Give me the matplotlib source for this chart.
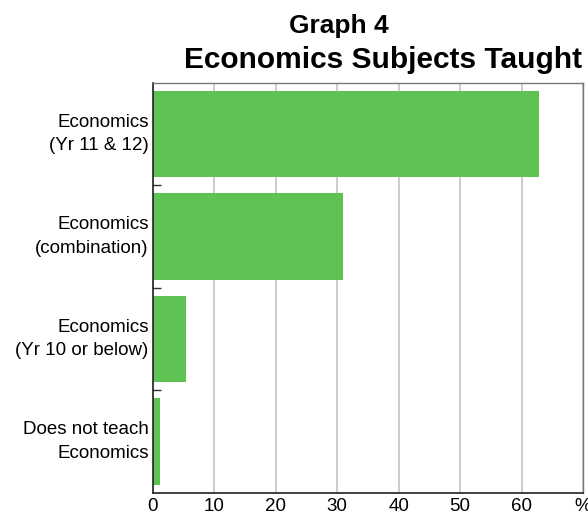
import matplotlib
matplotlib.use("Agg")
import matplotlib.pyplot as plt
import numpy as np

plt.rcParams['font.family'] = ['Liberation Sans', 'DejaVu Sans']

categories = ["Economics\n(Yr 11 & 12)", "Economics\n(combination)",
              "Economics\n(Yr 10 or below)", "Does not teach\nEconomics"]
values = [62.9, 31.0, 5.4, 1.2]
x_ticks = [0, 10, 20, 30, 40, 50, 60, 70]
x_ticklabels = ["0", "10", "20", "30", "40", "50", "60", "%"]

fig = plt.figure(figsize=(5.88, 5.24), dpi=100)
ax = fig.add_axes([0.2597, 0.0597, 0.7318, 0.7825])

ypos = np.arange(len(categories))
ax.barh(ypos, values, height=0.84, color="#5fc354", zorder=2)
ax.set_ylim(len(categories) - 0.5, -0.5)
ax.set_xlim(0, 70)

ax.set_xticks(x_ticks)
ax.set_xticklabels(x_ticklabels, fontsize=13.5)
ax.tick_params(axis='x', length=0, pad=4)
ax.xaxis.grid(True, color="#c4c4c4", linewidth=1.2, zorder=0)

ax.set_yticks(ypos)
ax.set_yticklabels(categories, fontsize=13.5, linespacing=1.5, va='center')
ax.tick_params(axis='y', which='major', length=0, pad=3)
ax.set_yticks(np.arange(0.5, len(categories) - 1, 1.0), minor=True)
ax.tick_params(axis='y', which='minor', direction='in', length=6, width=1, color='#333333')

for side in ['left', 'bottom']:
    ax.spines[side].set_color('#222222')
    ax.spines[side].set_linewidth(1.2)
for side in ['top', 'right']:
    ax.spines[side].set_color('#777777')
    ax.spines[side].set_linewidth(1.0)

fig.text(0.577, 0.937, "Graph 4", ha='center', va='baseline', fontsize=19, fontweight='bold')
fig.text(0.651, 0.870, "Economics Subjects Taught", ha='center', va='baseline', fontsize=21.5, fontweight='bold')

fig.savefig("out.png", dpi=100)
